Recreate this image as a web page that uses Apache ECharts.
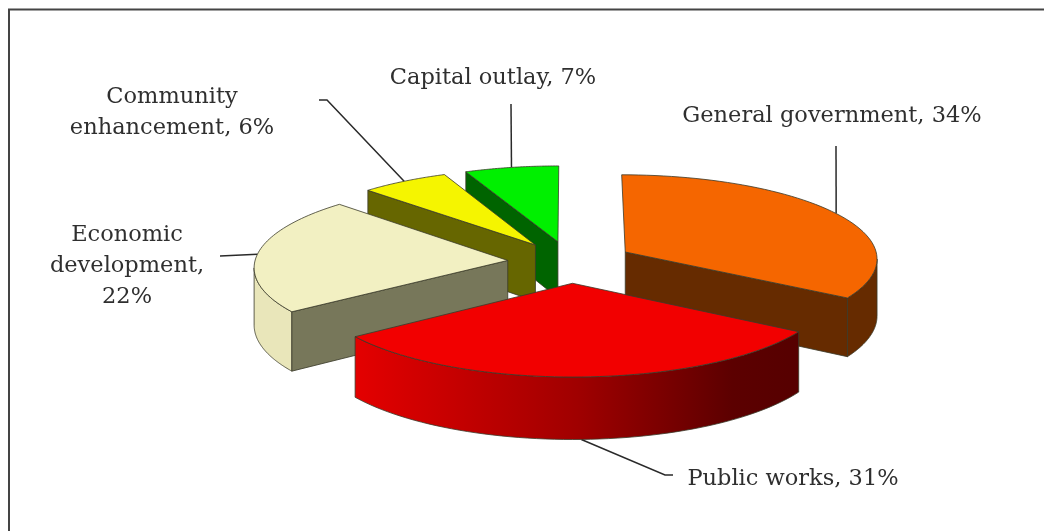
<!DOCTYPE html>
<html lang="en">
<head>
    <meta charset="UTF-8">
    <script src="https://cdn.jsdelivr.net/npm/echarts@6/dist/echarts.min.js"></script>
    <title>Budget by function</title>
    <style>
        html, body { margin: 0; padding: 0; background: #fff; }
        #chart { width: 1044px; height: 531px; }
    </style>
</head>
<body>
<div id="chart"></div>
<script type="text/javascript">
    // values, clockwise from twelve o'clock
    var categories = ['General government', 'Public works', 'Economic development', 'Community enhancement', 'Capital outlay'];
    var shares = [34, 31, 22.4, 6.1, 6.5];
    var labelLines = [
        ['General government, 34%'],
        ['Public works, 31%'],
        ['Economic', 'development,', '22%'],
        ['Community', 'enhancement, 6%'],
        ['Capital outlay, 7%']
    ];

    var topColors = ['#f56600', '#f20000', '#f2f0c2', '#f5f500', '#00f000'];
    var cutColors = ['#662b00', '#5a0000', '#77775a', '#666600', '#006400'];
    var rimColors = ['#662b00', null, '#e9e6ba', '#f5f500', '#00f000'];
    var drawOrder = [4, 3, 2, 0, 1];

    // projection of the tilted pie
    var cx = 570.5, cy = 262, radius = 253, explode = 63, depth = 57, tilt = 0.332, persp = 0.000278;

    // label text centre + leader elbow points, pixels
    var labelPos = [
        { x: 832, y: 116, leader: [[836, 146]] },
        { x: 793, y: 479, leader: [[665, 475], [673, 475]] },
        { x: 127, y: 266, leader: [[220, 256]] },
        { x: 172, y: 112.5, leader: [[327, 100], [319, 100]] },
        { x: 493, y: 78, leader: [[511, 104]] }
    ];

    function project(x, y, drop) {
        var w = 1 - persp * y;
        return [cx + x / w, cy + (tilt * y + (drop || 0)) / w];
    }

    var total = shares.reduce(function (a, b) { return a + b; }, 0);
    var slices = [], run = 0;
    shares.forEach(function (v) {
        var start = run / total * Math.PI * 2;
        run += v;
        var end = run / total * Math.PI * 2;
        var mid = (start + end) / 2;
        slices.push({ start: start, end: end, mid: mid, ox: explode * Math.sin(mid), oy: -explode * Math.cos(mid) });
    });

    function rimPoint(s, a, drop) {
        return project(s.ox + radius * Math.sin(a), s.oy - radius * Math.cos(a), drop);
    }
    function arc(s, a0, a1, drop) {
        var pts = [], n = 60;
        for (var i = 0; i <= n; i++) pts.push(rimPoint(s, a0 + (a1 - a0) * i / n, drop));
        return pts;
    }
    // part of the rim that faces the viewer: going clockwise it runs right to left
    function frontRange(s) {
        var from = null, to = null, n = 120;
        for (var i = 0; i < n; i++) {
            var a0 = s.start + (s.end - s.start) * i / n;
            var a1 = s.start + (s.end - s.start) * (i + 1) / n;
            if (rimPoint(s, a1)[0] < rimPoint(s, a0)[0]) {
                if (from === null) from = a0;
                to = a1;
            }
        }
        return from === null ? null : [from, to];
    }
    function poly(points, fill, z) {
        return {
            type: 'polygon', z2: z,
            shape: { points: points },
            style: { fill: fill, stroke: '#3a3a2a', lineWidth: 0.8 }
        };
    }

    function renderSlice(params, api) {
        var idx = api.value(0);
        var s = slices[idx];
        var apex = project(s.ox, s.oy), apexLow = project(s.ox, s.oy, depth);
        var kids = [];

        var front = frontRange(s);
        if (front) {
            var fill = rimColors[idx];
            if (fill === null) {
                fill = new echarts.graphic.LinearGradient(0, 0, 1, 0, [
                    { offset: 0, color: '#e40000' },
                    { offset: 0.5, color: '#a00000' },
                    { offset: 0.85, color: '#5c0000' },
                    { offset: 1, color: '#560000' }
                ]);
            }
            kids.push(poly(arc(s, front[0], front[1]).concat(arc(s, front[1], front[0], depth)), fill, 1));
        }

        // cut face that looks at the viewer (public works shows none)
        if (idx !== 1) {
            var a = idx === 0 ? s.end : s.start;
            kids.push(poly([apex, rimPoint(s, a), rimPoint(s, a, depth), apexLow], cutColors[idx], 2));
        }

        kids.push(poly([apex].concat(arc(s, s.start, s.end)), topColors[idx], 3));
        return { type: 'group', children: kids };
    }

    function renderLeader(params, api) {
        var idx = api.value(0);
        var s = slices[idx];
        var pts = [rimPoint(s, s.mid, idx === 1 ? depth : 0)].concat(labelPos[idx].leader);
        var kids = [{
            type: 'polyline',
            shape: { points: pts },
            style: { fill: null, stroke: '#2a2a2a', lineWidth: 1.5 }
        }];
        labelLines[idx].forEach(function (line, i, all) {
            kids.push({
                type: 'text',
                x: labelPos[idx].x,
                y: labelPos[idx].y + (i - (all.length - 1) / 2) * 31,
                style: {
                    text: line,
                    fill: '#2f2f2f',
                    font: '22.5px "DejaVu Serif"',
                    align: 'center',
                    verticalAlign: 'middle'
                }
            });
        });
        return { type: 'group', children: kids };
    }

    var chart = echarts.init(document.getElementById('chart'), null, { renderer: 'canvas' });
    var option = {
        animation: false,
        backgroundColor: '#fff',
        graphic: [{
            type: 'polyline',
            shape: { points: [[9, 531], [9, 9.5], [1044, 9.5]] },
            style: { fill: null, stroke: '#444', lineWidth: 2 },
            silent: true
        }],
        series: drawOrder.map(function (i, order) {
            return {
                type: 'custom',
                name: categories[i],
                coordinateSystem: 'none',
                renderItem: renderSlice,
                data: [[i, shares[i]]],
                z: 2 + order
            };
        }).concat([{
            type: 'custom',
            name: 'labels',
            coordinateSystem: 'none',
            renderItem: renderLeader,
            data: categories.map(function (c, i) { return [i, shares[i]]; }),
            z: 1
        }])
    };
    chart.setOption(option);
</script>
</body>
</html>
